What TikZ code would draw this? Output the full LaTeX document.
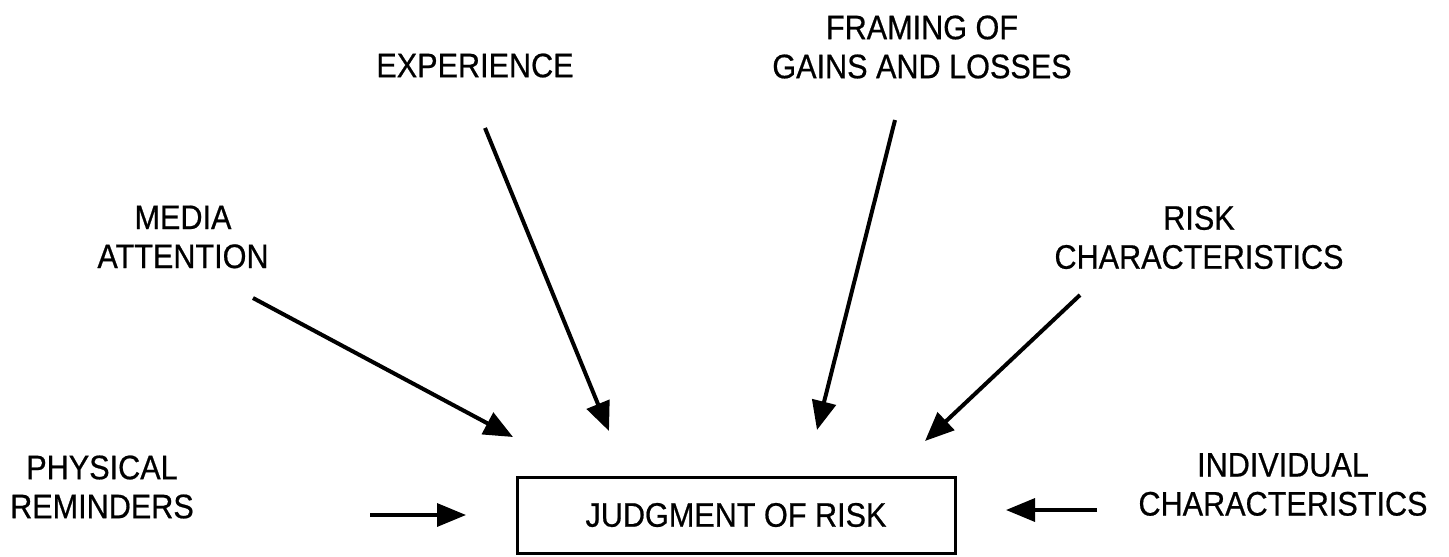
\documentclass[tikz,border=0pt]{standalone}
\usepackage{fontspec}
\setmainfont{Liberation Sans}[FakeStretch=0.9,FakeBold=0.6]
\usetikzlibrary{arrows.meta}

\begin{document}
\begin{tikzpicture}[x=1pt,y=-1pt,
  label/.style={align=center,inner sep=0pt,font=\fontsize{34}{39}\selectfont},
  judgebox/.style={draw,line width=3pt,minimum width=438pt,minimum height=76pt,
    inner sep=0pt,font=\fontsize{34}{39}\selectfont},
  influence/.style={line width=4pt,-{Triangle[length=29pt,width=24pt]}},
  sideinfluence/.style={line width=3.4pt,-{Triangle[length=29pt,width=23pt]}}]

\useasboundingbox (0,0) rectangle (1449,557);

% factors
\node[label] (exp)   at (475,65.5) {EXPERIENCE};
\node[label] (frame) at (922,47)   {FRAMING OF\\GAINS AND LOSSES};
\node[label] (media) at (183,237)  {MEDIA\\ATTENTION};
\node[label] (riskc) at (1199,237.5) {RISK\\CHARACTERISTICS};
\node[label] (phys)  at (102,487)  {PHYSICAL\\REMINDERS};
\node[label] (indiv) at (1283,484.5) {INDIVIDUAL\\CHARACTERISTICS};

% central judgment
\node[judgebox] (judge) at (736,515) {JUDGMENT OF RISK};

% arrow tails and heads
\coordinate (mediaT) at (253,298);  \coordinate (mediaH) at (513,437);
\coordinate (expT)   at (485,128);  \coordinate (expH)   at (609,431);
\coordinate (frameT) at (895,120);  \coordinate (frameH) at (817,430);
\coordinate (riskT)  at (1080,295); \coordinate (riskH)  at (925,441);
\coordinate (physT)  at (370,515);  \coordinate (physH)  at (466,515);
\coordinate (indivT) at (1097,510); \coordinate (indivH) at (1006,510);

\draw[influence] (mediaT) -- (mediaH);
\draw[influence] (expT) -- (expH);
\draw[influence] (frameT) -- (frameH);
\draw[influence] (riskT) -- (riskH);
\draw[sideinfluence] (physT) -- (physH);
\draw[sideinfluence] (indivT) -- (indivH);

\end{tikzpicture}
\end{document}
